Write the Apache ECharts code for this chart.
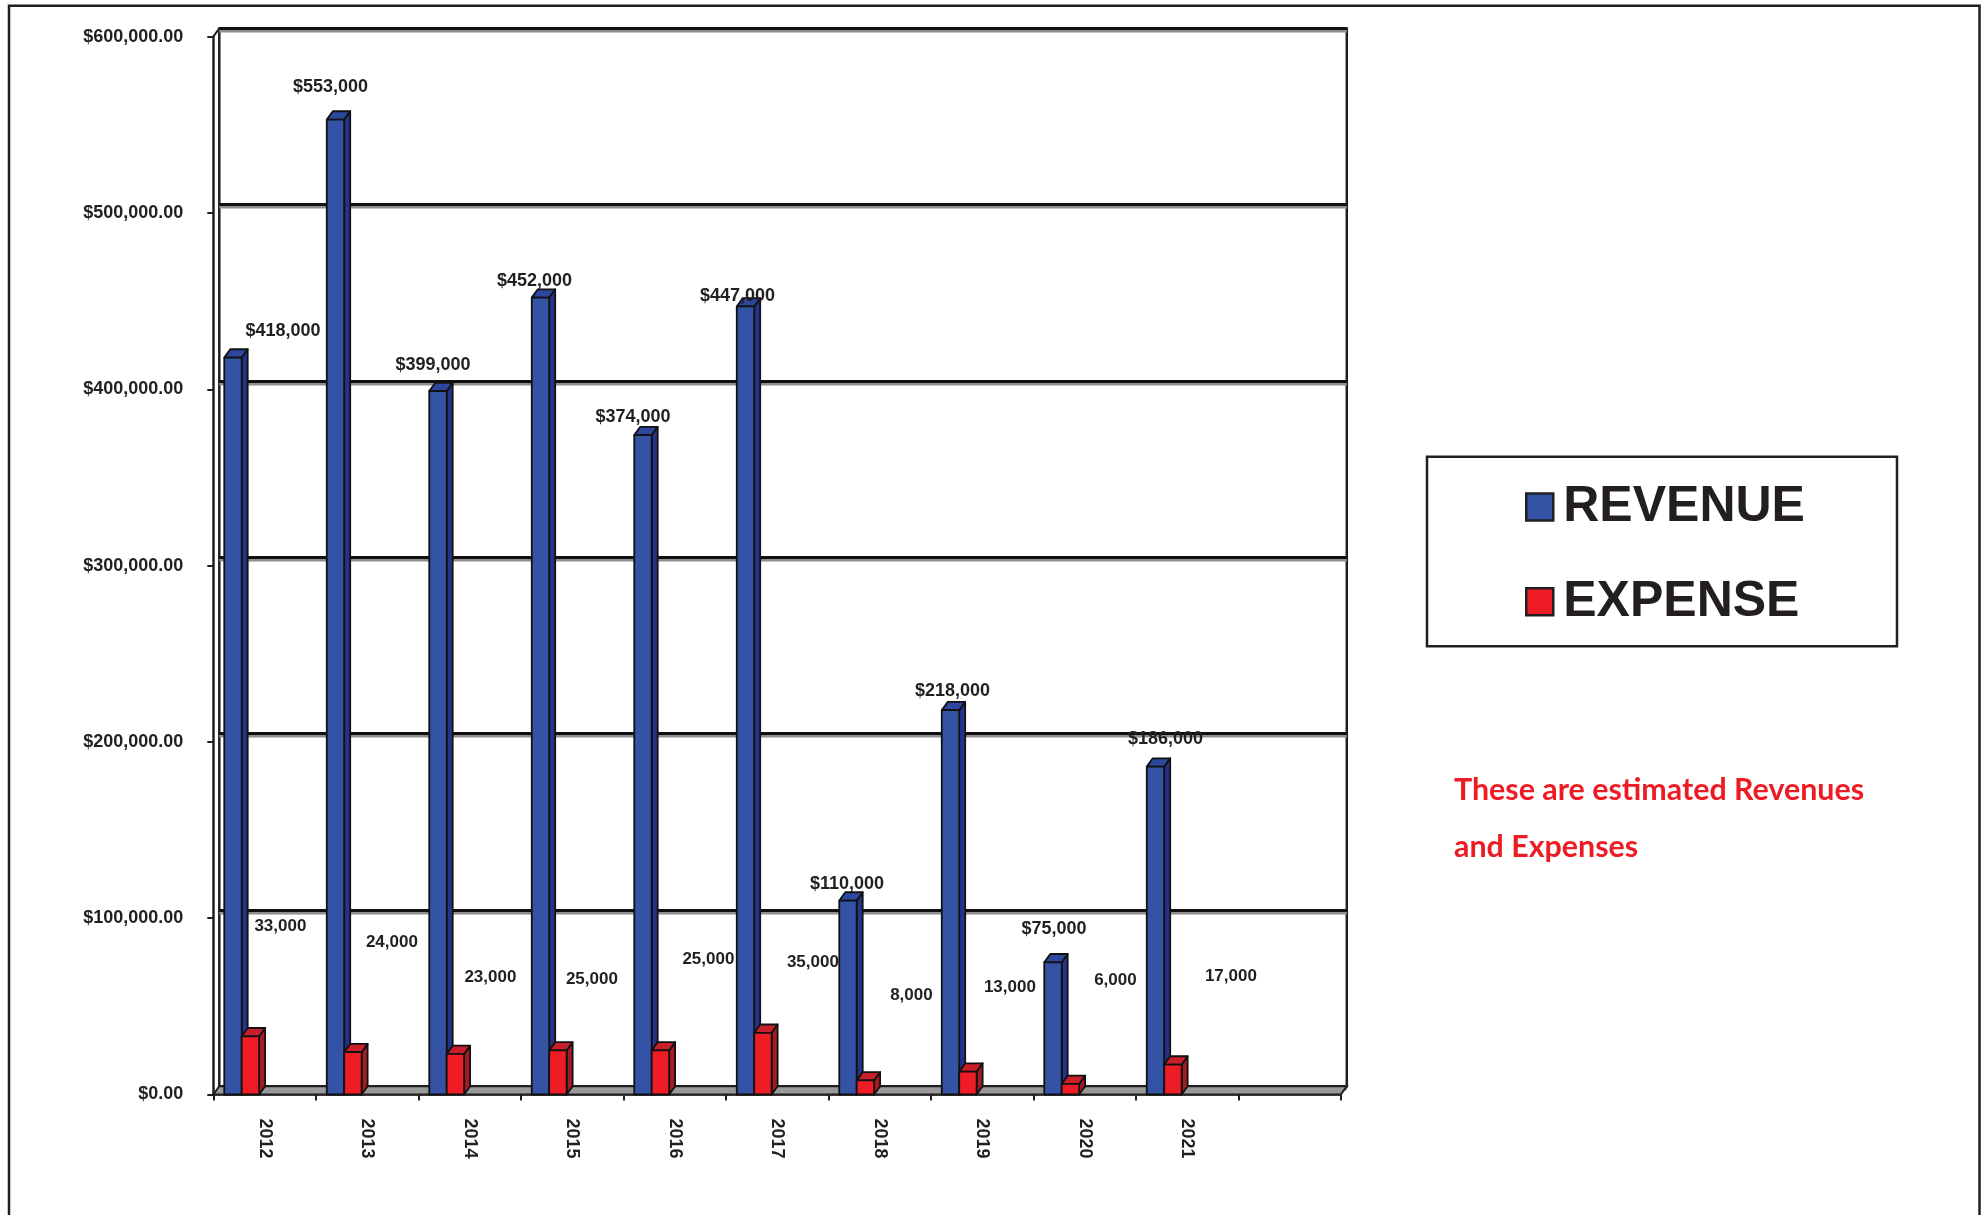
<!DOCTYPE html>
<html>
<head>
<meta charset="utf-8">
<script src="https://cdn.jsdelivr.net/npm/echarts@6/dist/echarts.min.js"></script>
<style>
html,body{margin:0;padding:0;background:#ffffff;}
#chart{width:1986px;height:1215px;}
</style>
</head>
<body>
<div id="chart"></div>
<script>
// ---- data ----
const years = ['2012','2013','2014','2015','2016','2017','2018','2019','2020','2021'];
const revenue = [418000, 553000, 399000, 452000, 374000, 447000, 110000, 218000, 75000, 186000];
const expense = [33000, 24000, 23000, 25000, 25000, 35000, 8000, 13000, 6000, 17000];
const yMin = 0, yMax = 600000, yStep = 100000;
const seriesNames = ['REVENUE', 'EXPENSE'];
const noteLines = ['These are estimated Revenues', 'and Expenses'];

// ---- styling ----
const INK = '#231f20';
const DX = 6, DY = 8.3;              // 3D depth offset
const BAR_W = 0.17;                  // fraction of band
const categories = years.concat(['']);

function fmtComma(n) {
  return String(Math.round(n)).replace(/\B(?=(\d{3})+(?!\d))/g, ',');
}
function fmtMoney2(n) { return '$' + fmtComma(n) + '.00'; }

// per-label nudges (style only), relative to the top-centre of each bar's front face
const revLabelNudge = [[50,-27],[-5,-33],[-5,-26],[-6,-17],[-10,-18],[-8,-10],[-1,-17],[2,-19],[1,-33],[10,-28]];
const expLabelNudge = [[30,-110],[39,-110],[35,-77],[34,-71],[48,-91],[50,-70],[46,-85],[42,-84],[45,-104],[58,-88]];

function makeBarRenderer(slot, front, top, side, nudges, fmt, fontSize) {
  return function (params, api) {
    const i = api.value(0), v = api.value(1);
    const base = api.coord([i, 0]);
    const tp = api.coord([i, v]);
    const band = api.size([1, 0])[0];
    const w = band * BAR_W;
    const x0 = base[0] - band / 2 + band * slot;
    const x1 = x0 + w;
    const yt = tp[1], yb = base[1];
    const stroke = { stroke: '#111', lineWidth: 1.8, lineJoin: 'round' };
    const n = nudges[params.dataIndex] || [0, -15];
    return {
      type: 'group',
      children: [
        { type: 'polygon', shape: { points: [[x1, yt], [x1 + DX, yt - DY], [x1 + DX, yb - DY], [x1, yb]] },
          style: Object.assign({ fill: side }, stroke) },
        { type: 'polygon', shape: { points: [[x0, yt], [x0 + DX, yt - DY], [x1 + DX, yt - DY], [x1, yt]] },
          style: Object.assign({ fill: top }, stroke) },
        { type: 'rect', shape: { x: x0, y: yt, width: w, height: yb - yt },
          style: Object.assign({ fill: front }, stroke) },
        { type: 'text', x: x0 + w / 2 + n[0], y: yt + n[1],
          style: { text: fmt(v), fill: INK, font: 'bold ' + fontSize + 'px "Liberation Sans", Arial, sans-serif',
                   align: 'center', verticalAlign: 'middle' } }
      ]
    };
  };
}

const chart = echarts.init(document.getElementById('chart'), null, { renderer: 'canvas' });

const option = {
  animation: false,
  backgroundColor: '#ffffff',
  textStyle: { fontFamily: '"Liberation Sans", Arial, sans-serif' },
  grid: [
    { left: 213.3, right: 645.2, top: 36.7, bottom: 120.5 },
    { left: 213.3 + DX, right: 645.2 - DX, top: 36.7 - DY, bottom: 120.5 + DY,
      show: true, borderColor: INK, borderWidth: 2.5, backgroundColor: 'transparent' }
  ],
  xAxis: [
    { type: 'category', gridIndex: 0, data: categories, boundaryGap: true,
      axisLine: { show: true, lineStyle: { color: INK, width: 2.5 } },
      axisTick: { show: true, length: 6, lineStyle: { color: INK, width: 2 } },
      axisLabel: { rotate: -90, margin: 24, color: INK, fontSize: 18, fontWeight: 'bold',
                   fontFamily: '"Liberation Sans", Arial, sans-serif', interval: 0 },
      splitLine: { show: false } },
    { type: 'category', gridIndex: 1, data: categories, show: false }
  ],
  yAxis: [
    { type: 'value', gridIndex: 0, min: yMin, max: yMax, interval: yStep,
      axisLine: { show: true, lineStyle: { color: INK, width: 2.5 } },
      axisTick: { show: true, length: 6, lineStyle: { color: INK, width: 2 } },
      axisLabel: { margin: 30, color: INK, fontSize: 18, fontWeight: 'bold',
                   fontFamily: '"Liberation Sans", Arial, sans-serif', formatter: fmtMoney2 },
      splitLine: { show: false } },
    { type: 'value', gridIndex: 1, min: yMin, max: yMax, interval: yStep,
      axisLine: { show: false }, axisTick: { show: false }, axisLabel: { show: false },
      splitLine: { show: true, lineStyle: { color: '#111111', width: 2.8, shadowColor: '#8f8f8f', shadowOffsetY: 2.5, shadowBlur: 0 } } }
  ],
  legend: {
    data: [
      { name: seriesNames[0], itemStyle: { color: '#3453a5', borderColor: INK, borderWidth: 2.5 } },
      { name: seriesNames[1], itemStyle: { color: '#ee1c25', borderColor: INK, borderWidth: 2.5 } }
    ],
    orient: 'vertical', left: 1525, top: 479, padding: 0,
    icon: 'rect', itemWidth: 27, itemHeight: 27, itemGap: 38.8,
    selectedMode: false,
    textStyle: { color: INK, fontSize: 50, fontWeight: 'bold', lineHeight: 56,
                 fontFamily: '"Liberation Sans", Arial, sans-serif', padding: [0, 0, 0, 5] }
  },
  graphic: [
    { type: 'rect', left: 6.5, top: 3.3, shape: { x: 0, y: 0, width: 1970.5, height: 1300 },
      style: { fill: 'none', stroke: INK, lineWidth: 2.5 }, silent: true },
    { type: 'rect', shape: { x: 1427, y: 456.7, width: 470, height: 189.5 },
      style: { fill: 'none', stroke: INK, lineWidth: 2.5 }, silent: true },
    { type: 'text', x: 1454, y: 790,
      style: { text: noteLines[0], fill: '#ed1c24', font: 'bold 30.4px Lato, "Open Sans", sans-serif', verticalAlign: 'middle' } },
    { type: 'text', x: 1454, y: 847.5,
      style: { text: noteLines[1], fill: '#ed1c24', font: 'bold 30.4px Lato, "Open Sans", sans-serif', verticalAlign: 'middle' } }
  ],
  series: [
    { type: 'custom', name: 'floor', xAxisIndex: 0, yAxisIndex: 0, z: 1, silent: true,
      data: [[0, 0]],
      renderItem: function (params, api) {
        const cs = params.coordSys;
        const xl = cs.x, xr = cs.x + cs.width, yb = cs.y + cs.height, yt = cs.y;
        return { type: 'group', children: [
          { type: 'polygon', shape: { points: [[xl, yb], [xr, yb], [xr + DX, yb - DY], [xl + DX, yb - DY]] },
            style: { fill: '#999999', stroke: INK, lineWidth: 2 } },
          { type: 'line', shape: { x1: xl, y1: yt, x2: xl + DX, y2: yt - DY },
            style: { stroke: INK, lineWidth: 2 } }
        ] };
      } },
    { type: 'custom', name: seriesNames[0], xAxisIndex: 0, yAxisIndex: 0, z: 3,
      itemStyle: { color: '#3453a5' },
      data: revenue.map(function (v, i) { return [i, v]; }),
      encode: { x: 0, y: 1 },
      renderItem: makeBarRenderer(0.107, '#3453a5', '#2d479c', '#25338a', revLabelNudge,
        function (v) { return '$' + fmtComma(v); }, 18) },
    { type: 'custom', name: seriesNames[1], xAxisIndex: 0, yAxisIndex: 0, z: 4,
      itemStyle: { color: '#ee1c25' },
      data: expense.map(function (v, i) { return [i, v]; }),
      encode: { x: 0, y: 1 },
      renderItem: makeBarRenderer(0.277, '#ee1c25', '#c8202a', '#a21c23', expLabelNudge,
        function (v) { return fmtComma(v); }, 17) }
  ]
};
chart.setOption(option);
</script>
</body>
</html>
